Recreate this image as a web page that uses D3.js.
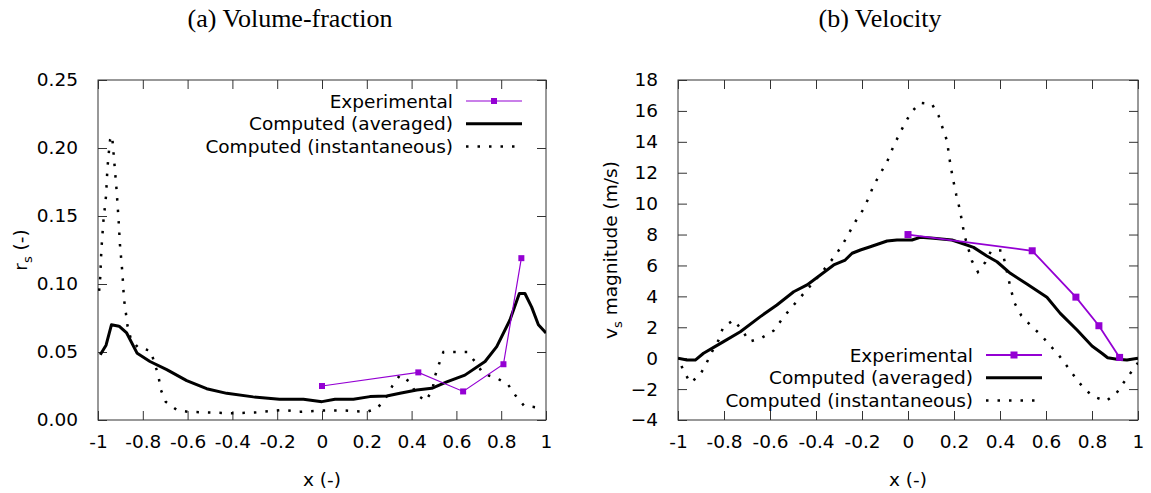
<!DOCTYPE html>
<html>
<head>
<meta charset="utf-8">
<script src="https://cdn.jsdelivr.net/npm/d3@7"></script>
<style>
  body { margin: 0; background: #fff; }
  text { font-family: "DejaVu Sans", sans-serif; fill: #000; }
</style>
</head>
<body>
<div class="chart"></div>
<script>
var w = 1151,
    h = 493;

var purple = "#9400D3";

// shared x axis
var xTickValues = [-1, -0.8, -0.6, -0.4, -0.2, 0, 0.2, 0.4, 0.6, 0.8, 1];

// (a) volume fraction
var volTicks = [0, 0.05, 0.10, 0.15, 0.20, 0.25];
var volExpX = [0, 0.43, 0.63, 0.81, 0.89];
var volExpY = [0.025, 0.035, 0.021, 0.041, 0.119];
var volAvgX = [-0.99, -0.964, -0.94, -0.906, -0.872, -0.825, -0.768, -0.693, -0.604, -0.515, -0.425, -0.307, -0.19, -0.083, 0.0, 0.058, 0.14, 0.214, 0.289, 0.348, 0.423, 0.49, 0.557, 0.638, 0.728, 0.78, 0.839, 0.881, 0.906, 0.936, 0.966, 1.0];
var volAvgY = [0.048, 0.055, 0.070, 0.069, 0.064, 0.049, 0.043, 0.037, 0.029, 0.023, 0.0196, 0.017, 0.0152, 0.0152, 0.0135, 0.0152, 0.0152, 0.0172, 0.0176, 0.0196, 0.022, 0.0233, 0.028, 0.033, 0.043, 0.054, 0.0735, 0.093, 0.093, 0.083, 0.070, 0.064];
var volInstX = [-0.995, -0.99, -0.985, -0.976, -0.964, -0.958, -0.952, -0.946, -0.937, -0.927, -0.917, -0.909, -0.902, -0.891, -0.884, -0.875, -0.868, -0.854, -0.82, -0.765, -0.731, -0.719, -0.698, -0.649, -0.597, -0.5, -0.4, -0.3, -0.173, -0.1, 0, 0.1, 0.2, 0.247, 0.286, 0.314, 0.348, 0.396, 0.42, 0.463, 0.4925, 0.504, 0.522, 0.542, 0.589, 0.649, 0.6875, 0.72, 0.777, 0.829, 0.864, 0.902, 0.958];
var volInstY = [0.095, 0.105, 0.125, 0.146, 0.165, 0.185, 0.196, 0.206, 0.209, 0.189, 0.169, 0.1495, 0.129, 0.108, 0.089, 0.078, 0.069, 0.060, 0.053, 0.051, 0.033, 0.022, 0.0135, 0.0074, 0.006, 0.0055, 0.005, 0.0055, 0.0074, 0.006, 0.007, 0.007, 0.006, 0.0086, 0.0167, 0.025, 0.033, 0.0275, 0.019, 0.014, 0.022, 0.032, 0.041, 0.050, 0.050, 0.050, 0.042, 0.034, 0.031, 0.0264, 0.018, 0.0105, 0.0093];

// (b) velocity
var velTicks = [-4, -2, 0, 2, 4, 6, 8, 10, 12, 14, 16, 18];
var velExpX = [0, 0.54, 0.73, 0.83, 0.92];
var velExpY = [8.0, 6.95, 3.95, 2.1, 0.05];
var velAvgX = [-1, -0.961, -0.925, -0.889, -0.845, -0.802, -0.729, -0.642, -0.570, -0.497, -0.439, -0.381, -0.323, -0.273, -0.243, -0.207, -0.164, -0.091, -0.048, 0.017, 0.053, 0.111, 0.191, 0.227, 0.285, 0.343, 0.387, 0.445, 0.517, 0.604, 0.662, 0.735, 0.80, 0.843, 0.868, 0.909, 0.952, 1.0];
var velAvgY = [0.0, -0.12, -0.12, 0.32, 0.70, 1.07, 1.71, 2.69, 3.44, 4.30, 4.74, 5.38, 6.03, 6.35, 6.79, 7.0, 7.21, 7.58, 7.65, 7.65, 7.82, 7.76, 7.65, 7.47, 7.17, 6.61, 6.24, 5.49, 4.80, 3.94, 2.90, 1.82, 0.79, 0.32, 0.03, -0.07, -0.12, 0.0];
var velInstX = [-0.985, -0.973, -0.947, -0.906, -0.878, -0.852, -0.823, -0.804, -0.758, -0.719, -0.689, -0.635, -0.584, -0.548, -0.512, -0.473, -0.396, -0.357, -0.320, -0.287, -0.257, -0.229, -0.196, -0.171, -0.150, -0.120, -0.091, -0.068, -0.043, -0.016, 0.014, 0.053, 0.104, 0.133, 0.151, 0.170, 0.178, 0.187, 0.198, 0.210, 0.224, 0.235, 0.245, 0.278, 0.304, 0.336, 0.362, 0.409, 0.423, 0.435, 0.448, 0.464, 0.493, 0.535, 0.578, 0.616, 0.655, 0.691, 0.727, 0.764, 0.807, 0.862, 0.906, 0.937, 0.974, 1.0];
var velInstY = [-0.5, -0.88, -1.59, -1.13, -0.38, 0.42, 1.18, 2.0, 2.47, 1.76, 1.07, 1.33, 1.78, 2.52, 3.18, 3.85, 5.17, 5.88, 6.57, 7.28, 8.08, 8.83, 9.59, 10.38, 11.16, 11.96, 12.71, 13.54, 14.33, 15.13, 15.91, 16.53, 16.45, 15.69, 14.87, 14.05, 13.15, 12.29, 11.42, 10.56, 9.70, 8.83, 7.97, 6.29, 5.58, 6.20, 6.96, 6.96, 6.09, 5.27, 4.41, 3.55, 2.75, 2.10, 1.50, 0.85, 0.21, -0.51, -1.24, -1.95, -2.49, -2.77, -2.27, -1.59, -0.83, -0.3];

var legendLabels = ["Experimental", "Computed (averaged)", "Computed (instantaneous)"];

var svg = d3.select(".chart").append("svg")
  .attr("width", w)
  .attr("height", h)
  .style("background", "#fff");

function zip(xs, ys) {
  return xs.map(function(x, i) { return [x, ys[i]]; });
}

function fmtX(d) {
  return String(+d.toFixed(1));
}

function drawPanel(p) {
  var x = d3.scaleLinear().domain([-1, 1]).range([p.left, p.right]);
  var y = d3.scaleLinear().domain(p.yDomain).range([p.bottom, p.top]);
  var g = svg.append("g");

  // border
  g.append("rect")
    .attr("x", p.left).attr("y", p.top)
    .attr("width", p.right - p.left).attr("height", p.bottom - p.top)
    .attr("fill", "none").attr("stroke", "#333").attr("stroke-width", 1);

  // axes with inward ticks, mirrored on top and right
  var tk = 9;
  g.append("g").attr("transform", "translate(0," + p.bottom + ")")
    .call(d3.axisBottom(x).tickValues(xTickValues).tickFormat(fmtX).tickSizeInner(-tk).tickSizeOuter(0).tickPadding(15))
    .call(styleAxis);
  g.append("g").attr("transform", "translate(0," + p.top + ")")
    .call(d3.axisTop(x).tickValues(xTickValues).tickFormat("").tickSizeInner(-tk).tickSizeOuter(0))
    .call(styleAxis);
  g.append("g").attr("transform", "translate(" + p.left + ",0)")
    .call(d3.axisLeft(y).tickValues(p.yTicks).tickFormat(p.yFormat).tickSizeInner(-tk).tickSizeOuter(0).tickPadding(20))
    .call(styleAxis);
  g.append("g").attr("transform", "translate(" + p.right + ",0)")
    .call(d3.axisRight(y).tickValues(p.yTicks).tickFormat("").tickSizeInner(-tk).tickSizeOuter(0))
    .call(styleAxis);

  // axis titles
  g.append("text")
    .attr("x", (p.left + p.right) / 2).attr("y", 486)
    .attr("text-anchor", "middle").style("font-size", "18.5px")
    .text("x (-)");
  var yl = g.append("text")
    .attr("transform", "translate(" + p.yLabelX + "," + (p.top + p.bottom) / 2 + ") rotate(-90)")
    .attr("text-anchor", "middle").style("font-size", "18.5px");
  yl.append("tspan").text(p.yLabel[0]);
  yl.append("tspan").attr("dy", 5).style("font-size", "13px").text("s");
  yl.append("tspan").attr("dy", -5).text(p.yLabel[1]);

  // panel title
  svg.append("text")
    .attr("x", p.titleX).attr("y", 27)
    .attr("text-anchor", "middle")
    .style("font-family", "'Liberation Serif', serif").style("font-size", "26px")
    .text(p.title);

  var clipId = "clip" + p.id;
  svg.append("clipPath").attr("id", clipId)
    .append("rect").attr("x", p.left).attr("y", p.top)
    .attr("width", p.right - p.left).attr("height", p.bottom - p.top);

  var line = d3.line()
    .x(function(d) { return x(d[0]); })
    .y(function(d) { return y(d[1]); });

  var plot = g.append("g").attr("clip-path", "url(#" + clipId + ")");

  plot.append("path")
    .attr("d", line(zip(p.instX, p.instY)))
    .attr("fill", "none").attr("stroke", "#000")
    .attr("stroke-width", 2.5).attr("stroke-dasharray", "2.5,9");

  plot.append("path")
    .attr("d", line(zip(p.avgX, p.avgY)))
    .attr("fill", "none").attr("stroke", "#000")
    .attr("stroke-width", 3).attr("stroke-linejoin", "round");

  var exp = zip(p.expX, p.expY);
  plot.append("path")
    .attr("d", line(exp))
    .attr("fill", "none").attr("stroke", purple)
    .attr("stroke-width", p.expWidth);

  plot.selectAll("rect.pt")
    .data(exp)
    .enter()
    .append("rect")
    .attr("class", "pt")
    .attr("x", function(d) { return x(d[0]) - p.sq / 2; })
    .attr("y", function(d) { return y(d[1]) - p.sq / 2; })
    .attr("width", p.sq).attr("height", p.sq)
    .attr("fill", purple);

  // legend
  var lg = g.append("g");
  legendLabels.forEach(function(label, i) {
    var ly = p.legendY + i * 22.7;
    lg.append("text")
      .attr("x", p.legendTextX).attr("y", ly + 6.5)
      .attr("text-anchor", "end").style("font-size", "18.5px")
      .text(label);
    var x0 = p.legendTextX + 13, x1 = p.legendTextX + 69;
    var s = lg.append("line")
      .attr("x1", x0).attr("x2", x1).attr("y1", ly).attr("y2", ly);
    if (i === 0) {
      s.attr("stroke", purple).attr("stroke-width", p.expWidth);
      lg.append("rect")
        .attr("x", (x0 + x1) / 2 - p.sq / 2).attr("y", ly - p.sq / 2)
        .attr("width", p.sq).attr("height", p.sq).attr("fill", purple);
    } else if (i === 1) {
      s.attr("stroke", "#000").attr("stroke-width", 3);
    } else {
      s.attr("stroke", "#000").attr("stroke-width", 2.5).attr("stroke-dasharray", "2.5,9");
    }
  });
}

function styleAxis(sel) {
  sel.select(".domain").remove();
  sel.selectAll(".tick line").attr("stroke", "#333");
  sel.selectAll(".tick text")
    .style("font-family", "'DejaVu Sans', sans-serif")
    .style("font-size", "18.5px")
    .attr("fill", "#000");
}

drawPanel({
  id: "a", left: 98, right: 546, top: 80, bottom: 420,
  yDomain: [0, 0.25], yTicks: volTicks, yFormat: d3.format(".2f"),
  yLabel: ["r", " (-)"], yLabelX: 27,
  title: "(a) Volume-fraction", titleX: 290,
  expX: volExpX, expY: volExpY, avgX: volAvgX, avgY: volAvgY, instX: volInstX, instY: volInstY,
  expWidth: 1.2, sq: 6,
  legendTextX: 453, legendY: 101
});

drawPanel({
  id: "b", left: 678, right: 1138, top: 80, bottom: 420,
  yDomain: [-4, 18], yTicks: velTicks, yFormat: d3.format("d"),
  yLabel: ["v", " magnitude (m/s)"], yLabelX: 617,
  title: "(b) Velocity", titleX: 880,
  expX: velExpX, expY: velExpY, avgX: velAvgX, avgY: velAvgY, instX: velInstX, instY: velInstY,
  expWidth: 1.8, sq: 7,
  legendTextX: 973, legendY: 355
});
</script>
</body>
</html>
